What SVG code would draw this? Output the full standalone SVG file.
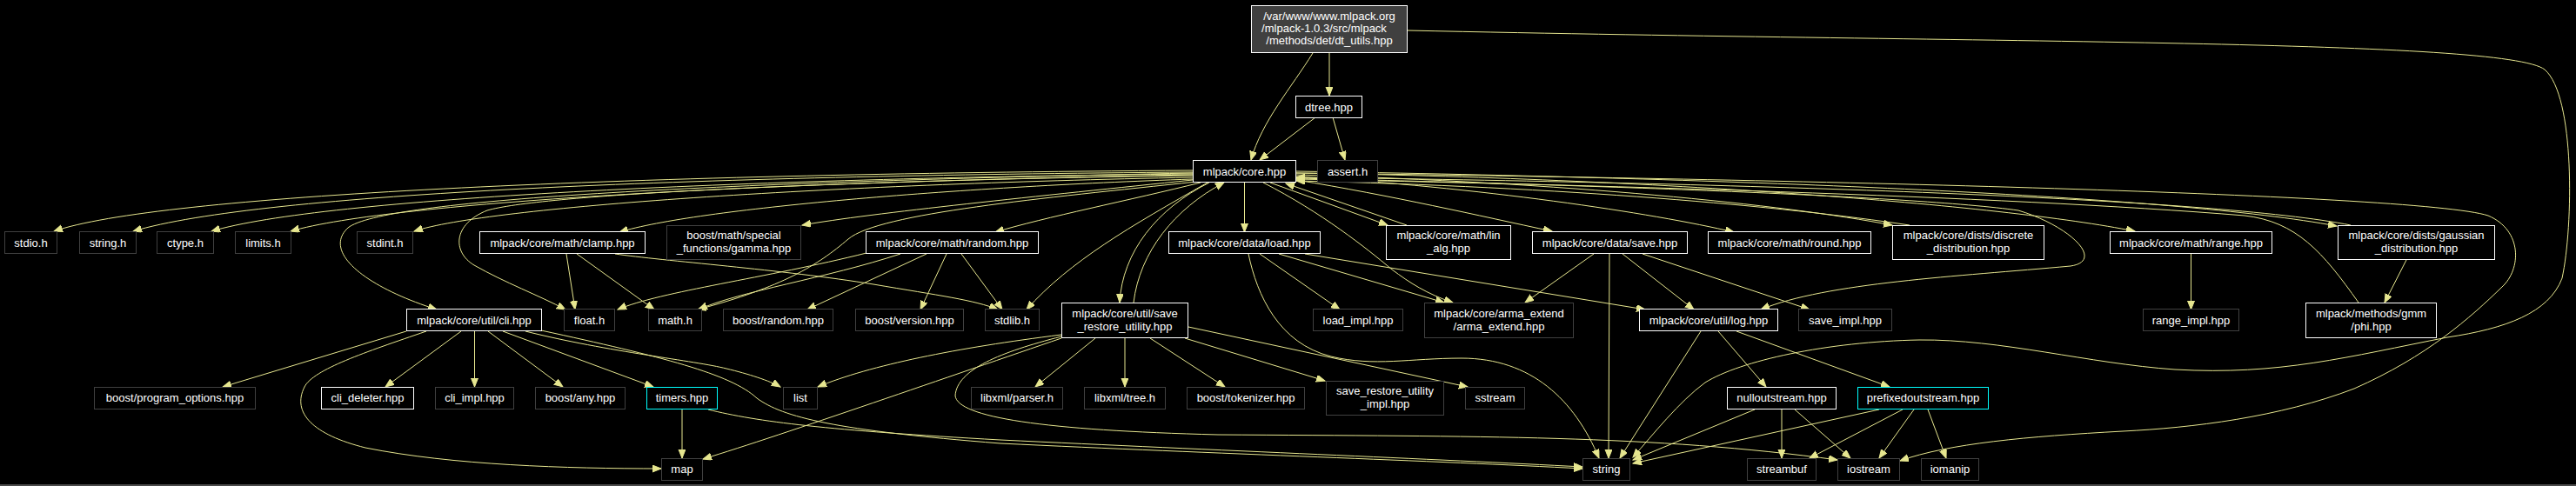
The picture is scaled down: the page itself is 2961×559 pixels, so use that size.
<svg xmlns="http://www.w3.org/2000/svg" width="2961" height="559" viewBox="0 0 2961 559">
<defs>
<style>
text{font-family:"Liberation Sans",Arial,Helvetica,sans-serif;font-size:13px;fill:#fff;text-anchor:middle}
rect.n{fill:#000;stroke-width:1}
rect.d{stroke:#fff}
rect.u{stroke:#404040}
rect.t{stroke:#0ff}
rect.r{fill:#404040;stroke:#fff;stroke-width:1}
#edges path{fill:none;stroke:#e6e68f;stroke-width:1;marker-end:url(#ah)}
</style>
<marker id="ah" markerUnits="userSpaceOnUse" markerWidth="11" markerHeight="9" refX="10" refY="4" orient="auto"><path d="M0,0L10,4L0,8z" fill="#e6e68f" stroke="#e6e68f" stroke-width="1"/></marker>
</defs>
<rect x="0" y="0" width="2961" height="559" fill="#000"/>
<rect x="0" y="557" width="2961" height="2" fill="#4a4a4a"/>
<g id="edges">
<path d="M1509,61 C1485,100 1450,140 1438,184"/>
<path d="M1528,61 L1528,110"/>
<path d="M1618,35 C2300,50 2880,45 2925,80 C2960,110 2958,260 2945,320 C2930,360 2880,378 2813,388 C2700,410 2620,432 2500,425 C2400,418 2300,390 2206,391 C2100,393 2000,415 1960,440 C1930,462 1900,500 1877,526"/>
<path d="M1512,135 L1448,184"/>
<path d="M1532,135 L1546,184"/>
<path d="M1371,196 C700,200 180,225 62,266"/>
<path d="M1371,198 C800,202 300,222 153,266"/>
<path d="M1371,200 C850,205 370,228 243,266"/>
<path d="M1371,202 C900,208 450,232 334,266"/>
<path d="M1371,204 C950,212 560,238 476,266"/>
<path d="M1371,199 C800,210 440,230 400,262 C370,290 420,330 502,356"/>
<path d="M1371,201 C900,210 620,225 560,242 C520,258 520,290 545,305 C580,325 620,340 650,356"/>
<path d="M1371,206 C1100,215 800,240 712,267"/>
<path d="M1371,207 C1200,225 1000,245 922,259"/>
<path d="M1380,210 C1300,230 1200,250 1144,267"/>
<path d="M1375,209 C1200,228 1010,245 975,275 C940,305 900,330 802,356"/>
<path d="M1388,210 C1300,260 1230,300 1180,356"/>
<path d="M1390,210 C1330,240 1290,290 1287,348"/>
<path d="M1303,348 C1310,290 1350,240 1407,210"/>
<path d="M1430.5,210 L1430.5,267"/>
<path d="M1460,210 L1595,259"/>
<path d="M1617,259 L1478,211"/>
<path d="M1452,210 C1520,245 1570,285 1600,310 C1620,325 1640,338 1670,348"/>
<path d="M1490,207 C1600,225 1700,248 1784,266"/>
<path d="M1490,203 C1700,215 1900,245 1993,267"/>
<path d="M1490,201 C1800,210 2050,235 2175,259"/>
<path d="M2195,259 C2050,237 1800,215 1490,208"/>
<path d="M1490,199 C1900,205 2300,235 2454,266"/>
<path d="M1490,197 C2000,205 2500,225 2686,260"/>
<path d="M2702,259 C2550,228 2000,210 1490,204"/>
<path d="M2711,348 C2670,290 2640,255 2580,248 C2300,225 1800,212 1490,206"/>
<path d="M2766,299 L2741,348"/>
<path d="M1490,205 C1800,212 2200,225 2320,242 C2380,260 2420,300 2380,306 C2250,318 2100,325 2024,356"/>
<path d="M1490,199 C2000,205 2780,222 2860,248 C2900,265 2898,310 2876,330 C2840,365 2790,410 2706,447 C2620,480 2520,492 2440,496 C2330,502 2240,510 2184,530"/>
<path d="M651,292 L661,356"/>
<path d="M663,292 L752,356"/>
<path d="M707,292 C760,300 900,310 1004,327 C1080,340 1120,345 1147,356"/>
<path d="M996,291 C880,320 760,335 710,356"/>
<path d="M1035,292 C950,320 850,335 803,356"/>
<path d="M1065,292 L928,356"/>
<path d="M1088,292 L1058,356"/>
<path d="M1105,292 L1152,356"/>
<path d="M1448,292 L1540,356"/>
<path d="M1470,292 L1660,348"/>
<path d="M1500,292 L1891,356"/>
<path d="M1435,292 C1445,340 1470,395 1530,410 C1580,422 1620,412 1680,412 C1760,412 1810,460 1838,527"/>
<path d="M1832,292 L1753,348"/>
<path d="M1850,292 L1849,527"/>
<path d="M1865,292 L1947,356"/>
<path d="M1888,292 L2080,356"/>
<path d="M2518.5,292 L2518.5,356"/>
<path d="M467,381 L256,445"/>
<path d="M530,381 L443,445"/>
<path d="M545.5,381 L545.5,445"/>
<path d="M561,381 L647,445"/>
<path d="M578,381 L751,445"/>
<path d="M604,381 C700,405 800,415 835,424 C860,430 885,438 897,445"/>
<path d="M490,381 C420,405 360,425 350,445 C335,475 360,500 420,515 C520,535 650,539 760,539"/>
<path d="M622,380 C760,410 840,430 870,458 C900,480 960,495 1150,510 C1400,522 1650,530 1819,539"/>
<path d="M784,471 L784,527"/>
<path d="M814,471 C870,485 950,495 1150,506 C1400,518 1650,528 1819,537"/>
<path d="M1220,385 C1100,400 1000,420 940,445"/>
<path d="M1220,389 C1100,430 900,500 808,528"/>
<path d="M1220,387 C1150,405 1100,425 1098,455 C1100,480 1200,495 1400,500 C1700,502 1900,500 2112,529"/>
<path d="M1259,389 L1190,445"/>
<path d="M1293,389 L1293,445"/>
<path d="M1322,389 L1408,445"/>
<path d="M1362,389 L1523,438"/>
<path d="M1366,376 L1687,445"/>
<path d="M1955,381 L1862,527"/>
<path d="M1975,381 L2030,445"/>
<path d="M1996,381 L2172,445"/>
<path d="M2017,471 L1877,529"/>
<path d="M2048,471 L2048,527"/>
<path d="M2063,471 L2127,527"/>
<path d="M2160,471 L1877,533"/>
<path d="M2187,471 L2080,527"/>
<path d="M2200,471 L2160,527"/>
<path d="M2216,471 L2237,527"/>
</g>
<g id="dt_utils"><rect class="r" x="1438.5" y="6.5" width="179" height="54"/><text x="1528" y="22.8">/var/www/www.mlpack.org</text><text x="1522" y="37.2">/mlpack-1.0.3/src/mlpack</text><text x="1528" y="51.2">/methods/det/dt_utils.hpp</text></g>
<g id="dtree"><rect class="n d" x="1489.5" y="110.5" width="76" height="25"/><text x="1527.5" y="127.5">dtree.hpp</text></g>
<g id="core"><rect class="n d" x="1371.5" y="184.5" width="118" height="25"/><text x="1430.5" y="201.5">mlpack/core.hpp</text></g>
<g id="assert"><rect class="n u" x="1514.5" y="184.5" width="69" height="25"/><text x="1549" y="201.5">assert.h</text></g>
<g id="stdio"><rect class="n u" x="5.5" y="266.5" width="60" height="25"/><text x="35.5" y="284">stdio.h</text></g>
<g id="string_h"><rect class="n u" x="91.5" y="266.5" width="65" height="25"/><text x="124" y="284">string.h</text></g>
<g id="ctype"><rect class="n u" x="180.5" y="266.5" width="65" height="25"/><text x="213" y="284">ctype.h</text></g>
<g id="limits"><rect class="n u" x="270.5" y="266.5" width="64" height="25"/><text x="302.5" y="284">limits.h</text></g>
<g id="stdint"><rect class="n u" x="410.5" y="266.5" width="64" height="25"/><text x="442.5" y="284">stdint.h</text></g>
<g id="clamp"><rect class="n d" x="551.5" y="266.5" width="190" height="25"/><text x="646.5" y="284">mlpack/core/math/clamp.hpp</text></g>
<g id="gamma"><rect class="n u" x="766.5" y="259.5" width="154" height="39"/><text x="843.5" y="275">boost/math/special</text><text x="843.5" y="290">_functions/gamma.hpp</text></g>
<g id="random"><rect class="n d" x="995.5" y="266.5" width="198" height="25"/><text x="1094.5" y="284">mlpack/core/math/random.hpp</text></g>
<g id="load"><rect class="n d" x="1343.5" y="266.5" width="174" height="25"/><text x="1430.5" y="284">mlpack/core/data/load.hpp</text></g>
<g id="lin_alg"><rect class="n d" x="1593.5" y="259.5" width="143" height="39"/><text x="1665" y="275">mlpack/core/math/lin</text><text x="1665" y="290">_alg.hpp</text></g>
<g id="save"><rect class="n d" x="1761.5" y="266.5" width="178" height="25"/><text x="1850.5" y="284">mlpack/core/data/save.hpp</text></g>
<g id="round"><rect class="n d" x="1963.5" y="266.5" width="187" height="25"/><text x="2057" y="284">mlpack/core/math/round.hpp</text></g>
<g id="discrete"><rect class="n d" x="2175.5" y="259.5" width="174" height="39"/><text x="2262.5" y="275">mlpack/core/dists/discrete</text><text x="2262.5" y="290">_distribution.hpp</text></g>
<g id="range"><rect class="n d" x="2425.5" y="266.5" width="186" height="25"/><text x="2518.5" y="284">mlpack/core/math/range.hpp</text></g>
<g id="gaussian"><rect class="n d" x="2687.5" y="259.5" width="180" height="39"/><text x="2777.5" y="275">mlpack/core/dists/gaussian</text><text x="2777.5" y="290">_distribution.hpp</text></g>
<g id="cli"><rect class="n d" x="467.5" y="355.5" width="155" height="25"/><text x="545" y="373">mlpack/core/util/cli.hpp</text></g>
<g id="float"><rect class="n u" x="648.5" y="355.5" width="58" height="25"/><text x="677.5" y="373">float.h</text></g>
<g id="math"><rect class="n u" x="745.5" y="355.5" width="61" height="25"/><text x="776" y="373">math.h</text></g>
<g id="brandom"><rect class="n u" x="831.5" y="355.5" width="126" height="25"/><text x="894.5" y="373">boost/random.hpp</text></g>
<g id="bversion"><rect class="n u" x="983.5" y="355.5" width="124" height="25"/><text x="1045.5" y="373">boost/version.hpp</text></g>
<g id="stdlib"><rect class="n u" x="1132.5" y="355.5" width="62" height="25"/><text x="1163.5" y="373">stdlib.h</text></g>
<g id="save_restore"><rect class="n d" x="1220.5" y="348.5" width="145" height="40"/><text x="1293" y="364.5">mlpack/core/util/save</text><text x="1293" y="379.5">_restore_utility.hpp</text></g>
<g id="load_impl"><rect class="n u" x="1509.5" y="355.5" width="103" height="25"/><text x="1561" y="373">load_impl.hpp</text></g>
<g id="arma"><rect class="n u" x="1637.5" y="348.5" width="171" height="40"/><text x="1723" y="364.5">mlpack/core/arma_extend</text><text x="1723" y="379.5">/arma_extend.hpp</text></g>
<g id="log"><rect class="n d" x="1884.5" y="355.5" width="159" height="25"/><text x="1964" y="373">mlpack/core/util/log.hpp</text></g>
<g id="save_impl"><rect class="n u" x="2067.5" y="355.5" width="107" height="25"/><text x="2121" y="373">save_impl.hpp</text></g>
<g id="range_impl"><rect class="n u" x="2463.5" y="355.5" width="110" height="25"/><text x="2518.5" y="373">range_impl.hpp</text></g>
<g id="phi"><rect class="n d" x="2650.5" y="348.5" width="150" height="40"/><text x="2725.5" y="364.5">mlpack/methods/gmm</text><text x="2725.5" y="379.5">/phi.hpp</text></g>
<g id="popt"><rect class="n u" x="108.5" y="445.5" width="185" height="25"/><text x="201" y="462">boost/program_options.hpp</text></g>
<g id="cli_deleter"><rect class="n d" x="369.5" y="445.5" width="106" height="25"/><text x="422.5" y="462">cli_deleter.hpp</text></g>
<g id="cli_impl"><rect class="n u" x="500.5" y="445.5" width="90" height="25"/><text x="545.5" y="462">cli_impl.hpp</text></g>
<g id="bany"><rect class="n u" x="615.5" y="445.5" width="103" height="25"/><text x="667" y="462">boost/any.hpp</text></g>
<g id="timers"><rect class="n t" x="743.5" y="445.5" width="81" height="25"/><text x="784" y="462">timers.hpp</text></g>
<g id="list"><rect class="n u" x="900.5" y="445.5" width="39" height="25"/><text x="920" y="462">list</text></g>
<g id="parser"><rect class="n u" x="1116.5" y="445.5" width="105" height="25"/><text x="1169" y="462">libxml/parser.h</text></g>
<g id="tree"><rect class="n u" x="1246.5" y="445.5" width="93" height="25"/><text x="1293" y="462">libxml/tree.h</text></g>
<g id="tokenizer"><rect class="n u" x="1364.5" y="445.5" width="135" height="25"/><text x="1432" y="462">boost/tokenizer.hpp</text></g>
<g id="sr_impl"><rect class="n u" x="1524.5" y="438.5" width="135" height="39"/><text x="1592" y="454">save_restore_utility</text><text x="1592" y="469">_impl.hpp</text></g>
<g id="sstream"><rect class="n u" x="1684.5" y="445.5" width="68" height="25"/><text x="1718.5" y="462">sstream</text></g>
<g id="nullout"><rect class="n d" x="1985.5" y="445.5" width="125" height="25"/><text x="2048" y="462">nulloutstream.hpp</text></g>
<g id="prefixed"><rect class="n t" x="2135.5" y="445.5" width="150" height="25"/><text x="2210.5" y="462">prefixedoutstream.hpp</text></g>
<g id="map"><rect class="n u" x="760.5" y="527.5" width="47" height="25"/><text x="784" y="544">map</text></g>
<g id="string"><rect class="n u" x="1819.5" y="527.5" width="54" height="25"/><text x="1846.5" y="544">string</text></g>
<g id="streambuf"><rect class="n u" x="2008.5" y="527.5" width="79" height="25"/><text x="2048" y="544">streambuf</text></g>
<g id="iostream"><rect class="n u" x="2112.5" y="527.5" width="71" height="25"/><text x="2148" y="544">iostream</text></g>
<g id="iomanip"><rect class="n u" x="2208.5" y="527.5" width="66" height="25"/><text x="2241.5" y="544">iomanip</text></g>
</svg>
